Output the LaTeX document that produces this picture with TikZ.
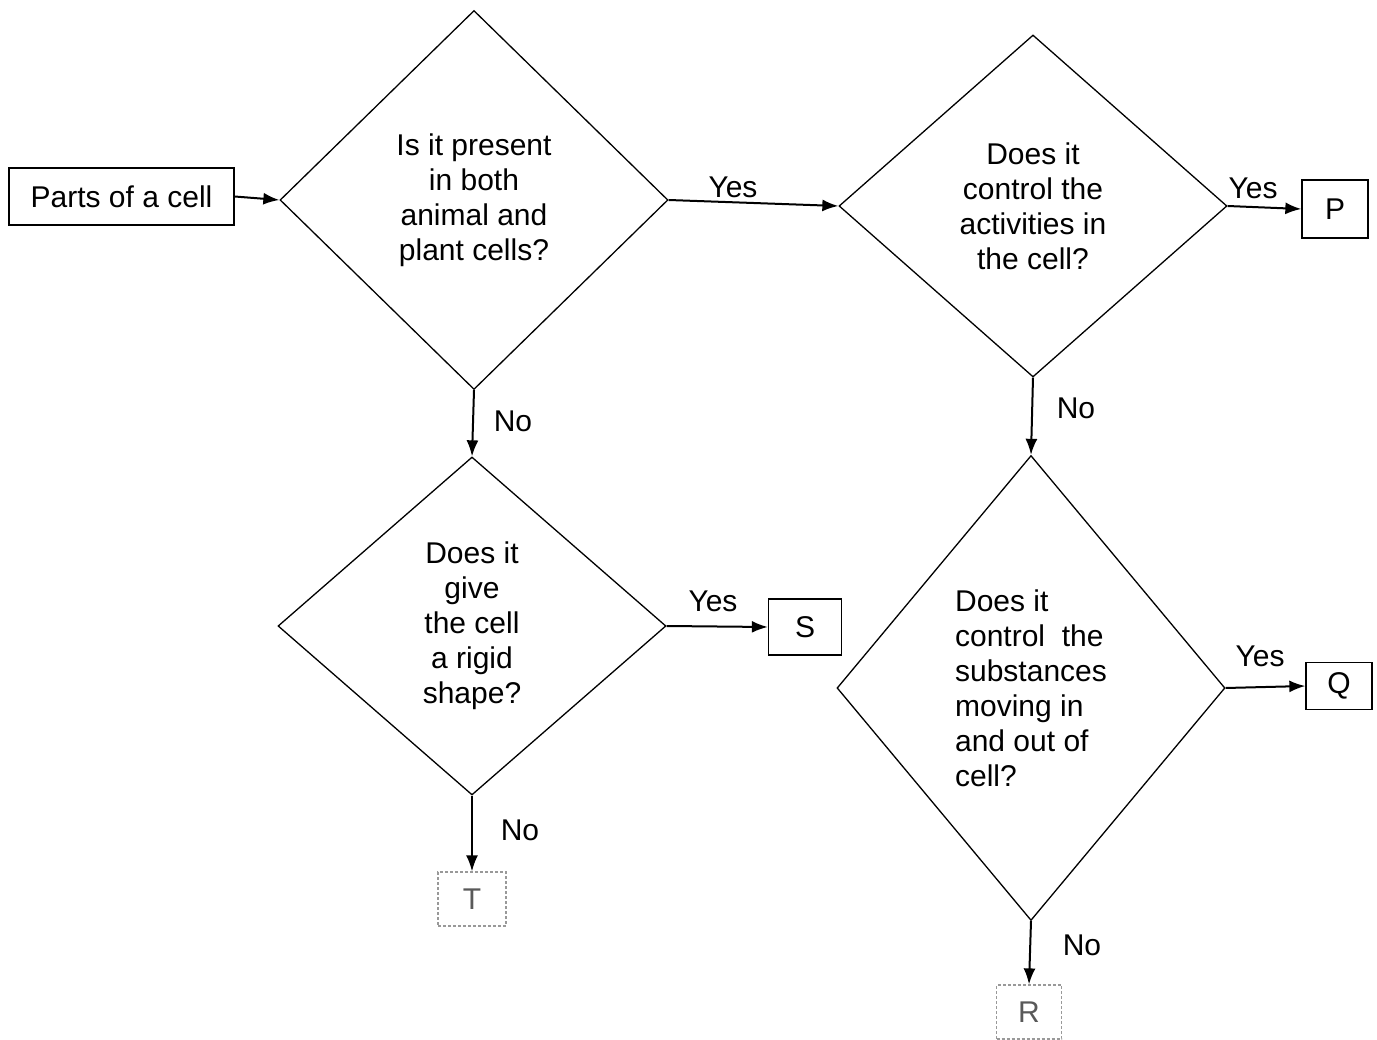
\documentclass[tikz,border=0pt]{standalone}
\usepackage{fontspec}
\setmainfont{Liberation Sans}
\usetikzlibrary{shapes.geometric,arrows.meta}
\begin{document}
\begin{tikzpicture}[x=1pt,y=-1pt,
  every node/.style={font=\fontsize{30}{35}\selectfont},
  dia/.style={draw, diamond, line width=1.3pt, inner sep=0pt, align=center},
  box/.style={draw, line width=1.3pt, inner sep=0pt},
  faint/.style={draw=black!40, densely dashed, line width=1.2pt, inner sep=0pt, text=black!65},
  conn/.style={line width=2pt, -{Latex[length=16pt,width=12pt]}},
  lab/.style={inner sep=0pt}
]
\useasboundingbox[fill=white] (0,0) rectangle (1377,1040);

% nodes
\node[box, minimum width=225pt, minimum height=57pt] (start) at (121.5,196.5) {Parts of a cell};
\node[dia, minimum width=388pt, minimum height=379pt] (d1) at (474,200)
  {Is it present\\in both\\animal and\\plant cells?};
\node[dia, minimum width=388pt, minimum height=342pt] (d2) at (1033,206)
  {Does it\\control the\\activities in\\the cell?};
\node[dia, minimum width=388pt, minimum height=338pt] (d3) at (472,626)
  {Does it\\give\\the cell\\a rigid\\shape?};
\node[dia, align=left, minimum width=388pt, minimum height=465pt] (d4) at (1031,688)
  {Does it\\control\ \ the\\substances\\moving in\\and out of\\cell?};

\node[box, minimum width=66pt, minimum height=58pt] (P) at (1335,209) {P};
\node[box, minimum width=73pt, minimum height=56pt] (S) at (805,627) {S};
\node[box, minimum width=66pt, minimum height=47pt] (Q) at (1339,686) {Q};
\node[faint, minimum width=68pt, minimum height=54pt] (T) at (472,899) {T};
\node[faint, minimum width=65pt, minimum height=54pt] (R) at (1029,1012) {R};

% connectors
\draw[conn] (start.east) -- (d1.west);
\draw[conn] (d1.east) -- (d2.west);
\draw[conn] (d2.east) -- (P.west);
\draw[conn] (d1.south) -- (d3.north);
\draw[conn] (d2.south) -- (d4.north);
\draw[conn] (d3.east) -- (S.west);
\draw[conn] (d3.south) -- (T.north);
\draw[conn] (d4.east) -- (Q.west);
\draw[conn] (d4.south) -- (R.north);

% labels
\node[lab] (l1) at (733,187) {Yes};
\node[lab] (l2) at (1253,188) {Yes};
\node[lab] (l3) at (513,421) {No};
\node[lab] (l4) at (1076,408) {No};
\node[lab] (l5) at (713,601) {Yes};
\node[lab] (l6) at (520,830) {No};
\node[lab] (l7) at (1260,656) {Yes};
\node[lab] (l8) at (1082,945) {No};
\end{tikzpicture}
\end{document}
